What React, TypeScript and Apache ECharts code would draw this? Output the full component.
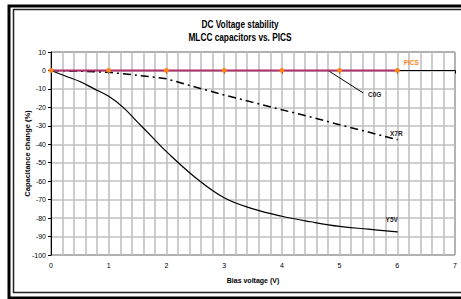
import React, { useEffect, useRef } from 'react';
import * as echarts from 'echarts';

const FONT = "'Liberation Sans', Arial, sans-serif";

const titleLines = ['DC Voltage stability', 'MLCC capacitors vs. PICS'];
const xAxisName = 'Bias voltage (V)';
const yAxisName = 'Capacitance change (%)';

const picsX = [0, 1, 2, 3, 4, 5, 6];
const picsY = [0, 0, 0, 0, 0, 0, 0];

const x7rX = [0, 0.5, 1, 1.5, 2, 2.5, 3, 3.5, 4, 4.5, 5, 5.5, 6];
const x7rY = [0, -0.4, -1, -2.6, -4.5, -9, -13.3, -17.3, -21.3, -25.2, -29.4, -33.4, -37.5];

const y5vX = [0, 0.25, 0.5, 0.75, 1, 1.25, 1.5, 1.75, 2, 2.5, 3, 3.5, 4, 4.5, 5, 5.5, 6];
const y5vY = [0, -3, -6, -10, -14, -20, -28, -36, -44, -58, -69, -75, -79, -82, -84.5, -86, -87.5];

const c0gX = [4.8, 5.4];
const c0gY = [0, -12];

const labelBase = {
  show: true,
  position: 'inside',
  fontFamily: FONT,
  fontSize: 6.5,
  fontWeight: 'bold',
  color: '#222',
};

function build(xs: number[], ys: number[], name: string, offset: number[], color?: string) {
  return xs.map((x, i) => {
    if (i < xs.length - 1) return [x, ys[i]];
    return {
      value: [x, ys[i]],
      symbol: 'circle',
      symbolSize: 1,
      label: { ...labelBase, formatter: name, offset, ...(color ? { color } : {}) },
    };
  });
}

export default function App() {
  const ref = useRef<HTMLDivElement>(null);
  useEffect(() => {
    if (!ref.current) return;
    const chart = echarts.init(ref.current, undefined, { renderer: 'svg' });
    const gridColor = '#c0c0c0';
    chart.setOption({
      animation: false,
      backgroundColor: '#fff',
      textStyle: { fontFamily: FONT },
      graphic: [
        { type: 'rect', shape: { x: 9, y: 6, width: 480, height: 292 }, style: { fill: 'none', stroke: '#000', lineWidth: 3 }, silent: true },
        { type: 'rect', shape: { x: 13.5, y: 9.5, width: 480, height: 283 }, style: { fill: 'none', stroke: '#222', lineWidth: 1.5 }, silent: true },
        { type: 'text', x: 240, y: 25, scaleX: 0.83, style: { text: titleLines[0], fontFamily: FONT, fontSize: 10, fontWeight: 'bold', fill: '#000', align: 'center', verticalAlign: 'middle' } },
        { type: 'text', x: 240, y: 38, scaleX: 0.83, style: { text: titleLines[1], fontFamily: FONT, fontSize: 10, fontWeight: 'bold', fill: '#000', align: 'center', verticalAlign: 'middle' } },
      ],
      grid: { left: 51, top: 52, right: 6, bottom: 44, show: true, borderColor: '#000', borderWidth: 1, containLabel: false },
      xAxis: {
        type: 'value', min: 0, max: 7, interval: 1,
        name: xAxisName, nameLocation: 'middle', nameGap: 22, nameMoveOverlap: false,
        nameTextStyle: { fontFamily: FONT, fontSize: 7, fontWeight: 'bold', color: '#000' },
        axisLine: { show: true, lineStyle: { color: '#000', width: 1 } },
        axisTick: { show: true, length: 3, lineStyle: { color: '#000' } },
        axisLabel: { fontFamily: FONT, fontSize: 7, color: '#000', margin: 7 },
        splitLine: { show: true, lineStyle: { color: gridColor, width: 1.6 } },
        minorTick: { show: false, splitNumber: 5 },
        minorSplitLine: { show: true, lineStyle: { color: gridColor, width: 1.6 } },
      },
      yAxis: {
        type: 'value', min: -100, max: 10, interval: 10,
        name: yAxisName, nameLocation: 'middle', nameGap: 20, nameMoveOverlap: false,
        nameTextStyle: { fontFamily: FONT, fontSize: 7.5, fontWeight: 'bold', color: '#000' },
        axisLine: { show: true, lineStyle: { color: '#000', width: 1 } },
        axisTick: { show: true, length: 3, lineStyle: { color: '#000' } },
        axisLabel: { fontFamily: FONT, fontSize: 7, color: '#000', margin: 5 },
        splitLine: { show: true, lineStyle: { color: gridColor, width: 1.6 } },
      },
      series: [
        {
          name: 'Y5V', type: 'line', symbol: 'none', smooth: 0.4,
          lineStyle: { color: '#000', width: 1.2 }, itemStyle: { color: '#000' },
          data: build(y5vX, y5vY, 'Y5V', [-5.6, -12.3]),
        },
        {
          name: 'X7R', type: 'line', symbol: 'none',
          lineStyle: { color: '#000', width: 1.5, type: [8, 4, 2, 4] }, itemStyle: { color: '#000' },
          data: build(x7rX, x7rY, 'X7R', [-1, -6]),
        },
        {
          name: 'C0G', type: 'line', symbol: 'none',
          lineStyle: { color: '#000', width: 1 }, itemStyle: { color: '#000' },
          data: build(c0gX, c0gY, 'C0G', [12, 2]),
        },
        {
          name: 'PICS', type: 'line', symbol: 'circle', symbolSize: 5,
          lineStyle: { color: '#b0306a', width: 2 }, itemStyle: { color: '#ff8419', borderWidth: 0 },
          data: picsX.map((x, i) => i < picsX.length - 1 ? [x, picsY[i]] : {
            value: [x, picsY[i]],
            label: { ...labelBase, formatter: 'PICS', offset: [14, -8], color: '#ff8419' },
          }),
        },
      ],
    });
    return () => chart.dispose();
  }, []);
  return <div ref={ref} style={{ position: 'fixed', left: 0, top: 0, width: 461, height: 299 }} />;
}
